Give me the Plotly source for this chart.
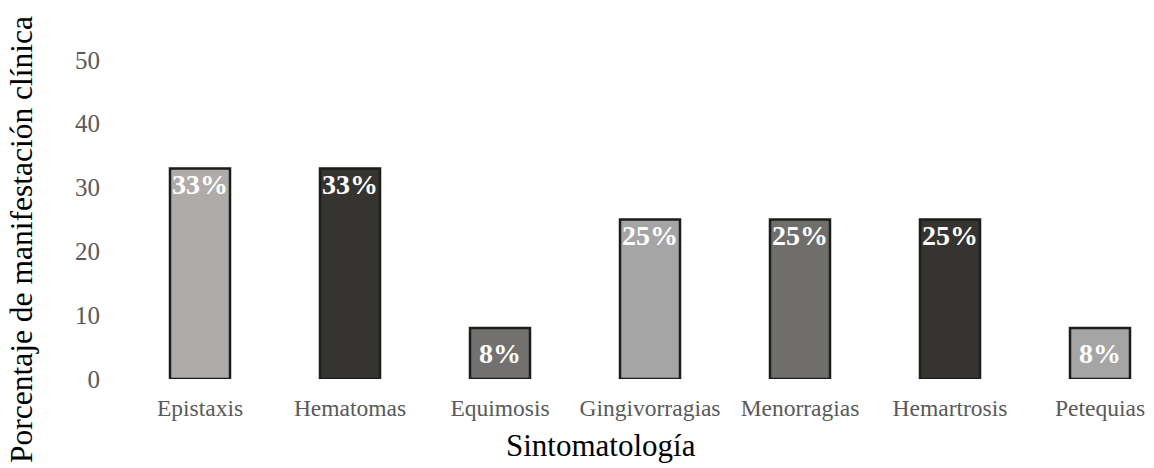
import plotly.graph_objects as go

sintomas = ["Epistaxis", "Hematomas", "Equimosis", "Gingivorragias",
            "Menorragias", "Hemartrosis", "Petequias"]
porcentajes = [33, 33, 8, 25, 25, 25, 8]
colores = ["#afabaa", "#363431", "#72716f", "#a5a5a5",
           "#6f6e6c", "#363431", "#a5a5a5"]
y_ticks = [0, 10, 20, 30, 40, 50]

SERIF = "Liberation Serif, Times New Roman, serif"

fig = go.Figure()
fig.add_trace(go.Bar(
    x=sintomas,
    y=porcentajes,
    width=0.4,
    marker=dict(color=colores, line=dict(color="#1b1d19", width=2.5)),
    hoverinfo="skip",
))

# value labels at the top of each bar (centred on the short ones)
for cat, val in zip(sintomas, porcentajes):
    short = val < 15
    fig.add_annotation(
        x=cat, y=val / 2 if short else val,
        yanchor="middle" if short else "top",
        yshift=0 if short else 1,
        text=f"<b>{val}%</b>", showarrow=False,
        font=dict(family=SERIF, size=28, color="white"),
    )

# axis titles
fig.add_annotation(
    xref="paper", yref="paper", x=0.4626, y=-0.19,
    xanchor="center", yanchor="middle",
    text="Sintomatología", showarrow=False,
    font=dict(family=SERIF, size=31, color="black"),
)
fig.add_annotation(
    xref="paper", yref="paper", x=-0.1001, y=0.399,
    xanchor="center", yanchor="middle", textangle=-90,
    text="Porcentaje de manifestación clínica", showarrow=False,
    font=dict(family=SERIF, size=31.5, color="black"),
)

fig.update_layout(
    width=1154, height=468,
    margin=dict(l=125, r=0, t=28, b=89),
    paper_bgcolor="white", plot_bgcolor="white",
    showlegend=False,
    font=dict(family=SERIF),
    xaxis=dict(
        range=[-0.5, 6.36],
        showgrid=False, showline=False, zeroline=False, ticks="",
        tickfont=dict(family=SERIF, size=23.5, color="#595959"),
        ticklabelstandoff=12,
    ),
    yaxis=dict(
        range=[0, 55],
        tickvals=y_ticks,
        showgrid=False, showline=False, zeroline=False, ticks="",
        tickfont=dict(family=SERIF, size=25, color="#595959"),
        ticklabelstandoff=24,
    ),
)

fig.write_html("out.html")
